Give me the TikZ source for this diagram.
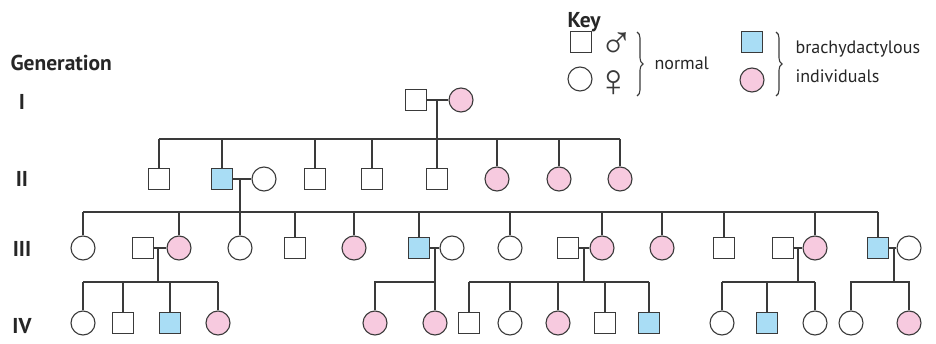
\documentclass[tikz,border=0pt]{standalone}
\usepackage{fontspec}
\setmainfont{PT Sans}
\newfontfamily\symfont{Liberation Sans}
\usetikzlibrary{decorations.pathreplacing}
\definecolor{affb}{HTML}{A9DDF5}
\definecolor{affp}{HTML}{F7CADF}
\definecolor{ln}{HTML}{3A3A3A}
\begin{document}
\begin{tikzpicture}[x=1pt,y=-1pt,
  line width=1.1pt, color=ln,
  male/.style={rectangle, draw=ln, fill=white, minimum size=20.5pt, inner sep=0pt},
  female/.style={circle, draw=ln, fill=white, minimum size=24pt, inner sep=0pt},
  aff m/.style={male, fill=affb},
  aff f/.style={female, fill=affp},
  lbl/.style={font=\fontsize{18}{20}\selectfont, text=black!85, inner sep=0pt},
  sym/.style={font=\symfont\fontsize{46}{46}\selectfont, text=ln, inner sep=0pt, anchor=base, text height=30pt, text depth=0pt},
  gen/.style={font=\fontsize{21.5}{24}\selectfont\bfseries, text=black!85, inner sep=0pt, anchor=base},
  key brace/.style={decorate, decoration={brace, amplitude=6pt}, line width=1.1pt}
]
\useasboundingbox (0,0) rectangle (936,344);

% labels
\node[gen, anchor=base west] (tgen) at (10,71) {Generation};
\node[gen] (g1) at (22,110) {I};
\node[gen] (g2) at (22,187) {II};
\node[gen] (g3) at (22,257) {III};
\node[gen] (g4) at (22,333) {IV};

% key
\node[gen, anchor=base west] (tkey) at (567,28) {Key};
\node[male] (km) at (581,42) {};
\node[female] (kf) at (580,79) {};
\node[sym] (kms) at (617,59) {♂};
\node[sym] (kfs) at (614,97) {♀};
\coordinate (kb1t) at (637,32);
\coordinate (kb1b) at (637,96);
\draw[key brace] (kb1t) -- (kb1b);
\node[lbl, anchor=base west] (tnormal) at (654,70) {normal};
\node[aff m] (kam) at (752,42) {};
\node[aff f] (kaf) at (752,80) {};
\coordinate (kb2t) at (776,32);
\coordinate (kb2b) at (776,96);
\draw[key brace] (kb2t) -- (kb2b);
\node[lbl, anchor=base west] (tbr) at (795,54) {brachydactylous};
\node[lbl, anchor=base west] (tind) at (795,83) {individuals};

% Generation I
\node[male] (p1) at (416,100) {};
\node[aff f] (p2) at (461,100) {};
\draw (p1) -- (p2);
\coordinate (m1) at (437,100);
\coordinate (j1) at (437,139);
\draw (m1) -- (j1);

% Generation II
\node[male] (a1) at (159,179) {};
\node[aff m] (a2) at (222,179) {};
\node[female] (a2s) at (264,179) {};
\node[male] (a3) at (315,179) {};
\node[male] (a4) at (372,179) {};
\node[male] (a5) at (437,179) {};
\node[aff f] (a6) at (497,179) {};
\node[aff f] (a7) at (559,179) {};
\node[aff f] (a8) at (620,179) {};
\draw (a1.north |- j1) -- (a8.north |- j1);
\foreach \c in {a1,a2,a3,a4,a6,a7,a8} \draw (\c.north) -- (\c.north |- j1);
\draw (j1) -- (a5.north);
\draw (a2) -- (a2s);
\coordinate (m2) at (240,179);
\coordinate (j2) at (240,212);
\draw (m2) -- (j2);

% Generation III
\node[female] (b1) at (83,248) {};
\node[male] (b2s) at (143,248) {};
\node[aff f] (b2) at (179,248) {};
\node[female] (b3) at (240,248) {};
\node[male] (b4) at (295,248) {};
\node[aff f] (b5) at (354,248) {};
\node[aff m] (b6) at (419,248) {};
\node[female] (b6s) at (452,248) {};
\node[female] (b7) at (510,248) {};
\node[male] (b8s) at (568,248) {};
\node[aff f] (b8) at (602,248) {};
\node[aff f] (b9) at (662,248) {};
\node[male] (b10) at (724,248) {};
\node[male] (b11s) at (783,248) {};
\node[aff f] (b11) at (815,248) {};
\node[aff m] (b12) at (878,248) {};
\node[female] (b12s) at (909,248) {};
\draw (b1.north |- j2) -- (b12.north |- j2);
\foreach \c in {b1,b2,b4,b5,b6,b7,b8,b9,b10,b11,b12} \draw (\c.north) -- (\c.north |- j2);
\draw (j2) -- (b3.north);

\draw (b2s) -- (b2);
\draw (b6) -- (b6s);
\draw (b8s) -- (b8);
\draw (b11s) -- (b11);
\draw (b12) -- (b12s);
\coordinate (m3a) at (158,248); \coordinate (j3a) at (158,282);
\coordinate (m3b) at (435,248); \coordinate (j3b) at (435,282);
\coordinate (m3c) at (584,248); \coordinate (j3c) at (584,282);
\coordinate (m3d) at (798,248); \coordinate (j3d) at (798,282);
\coordinate (m3e) at (894,248); \coordinate (j3e) at (894,282);
\foreach \s in {a,b,c,d,e} \draw (m3\s) -- (j3\s);

% Generation IV
\node[female] (c1) at (83,323) {};
\node[male] (c2) at (123,323) {};
\node[aff m] (c3) at (170,323) {};
\node[aff f] (c4) at (218,323) {};
\draw (c1.north |- j3a) -- (c4.north |- j3a);
\foreach \c in {c1,c2,c3,c4} \draw (\c.north) -- (\c.north |- j3a);

\node[aff f] (c5) at (375,323) {};
\node[aff f] (c6) at (435,323) {};
\draw (c5.north) |- (j3b) -- (c6.north);

\node[male] (c7) at (469,323) {};
\node[female] (c8) at (510,323) {};
\node[aff f] (c9) at (558,323) {};
\node[male] (c10) at (605,323) {};
\node[aff m] (c11) at (649,323) {};
\draw (c7.north |- j3c) -- (c11.north |- j3c);
\foreach \c in {c7,c8,c9,c10,c11} \draw (\c.north) -- (\c.north |- j3c);

\node[female] (c12) at (722,323) {};
\node[aff m] (c13) at (767,323) {};
\node[female] (c14) at (815,323) {};
\draw (c12.north |- j3d) -- (c14.north |- j3d);
\foreach \c in {c12,c13,c14} \draw (\c.north) -- (\c.north |- j3d);

\node[female] (c15) at (851,323) {};
\node[aff f] (c16) at (909,323) {};
\draw (c15.north) |- (j3e) -| (c16.north);
\end{tikzpicture}
\end{document}
